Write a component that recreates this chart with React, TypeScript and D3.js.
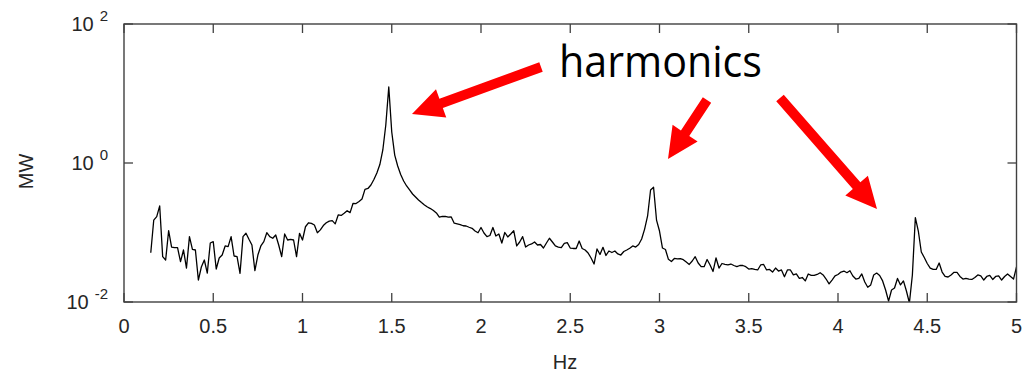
import React from "react";
import * as d3 from "d3";

// ---- data ----
const FREQ_START = 0.15; // Hz
const FREQ_STEP = 1 / 60; // Hz resolution
const POWER_MW: number[] = [
  0.0512, 0.151, 0.169, 0.241, 0.0449, 0.0402, 0.106, 0.0618, 0.0604, 0.0604,
  0.038, 0.056, 0.0308, 0.0871, 0.0573, 0.056, 0.0207, 0.0319, 0.0402, 0.0261,
  0.0706, 0.0738, 0.0298, 0.043, 0.0474, 0.064, 0.0625, 0.0871, 0.0459, 0.0449,
  0.0259, 0.0871, 0.0974, 0.0798, 0.0661, 0.0282, 0.0474, 0.064, 0.0738, 0.0993,
  0.0871, 0.0826, 0.092, 0.0661, 0.0449, 0.0951, 0.078, 0.0798, 0.078, 0.0449,
  0.0974, 0.078, 0.121, 0.138, 0.135, 0.128, 0.0993, 0.109, 0.126, 0.138,
  0.146, 0.148, 0.133, 0.179, 0.176, 0.189, 0.206, 0.193, 0.263, 0.261,
  0.279, 0.303, 0.418, 0.43, 0.483, 0.579, 0.718, 0.951, 1.54, 3.52,
  12.4, 2.79, 1.3, 0.905, 0.683, 0.551, 0.467, 0.409, 0.358, 0.324,
  0.294, 0.27, 0.249, 0.233, 0.221, 0.207, 0.191, 0.166, 0.17, 0.17,
  0.166, 0.167, 0.136, 0.133, 0.13, 0.125, 0.124, 0.119, 0.115, 0.105,
  0.0993, 0.118, 0.0984, 0.0871, 0.0905, 0.118, 0.0891, 0.0951, 0.0706, 0.1,
  0.0862, 0.0951, 0.106, 0.064, 0.073, 0.0871, 0.0618, 0.0661, 0.0684, 0.073,
  0.0661, 0.0672, 0.0598, 0.0706, 0.0826, 0.073, 0.064, 0.0618, 0.0608, 0.0695,
  0.0714, 0.0598, 0.0589, 0.0589, 0.0755, 0.0589, 0.056, 0.0507, 0.043, 0.0352,
  0.0579, 0.0482, 0.0612, 0.0467, 0.0542, 0.0516, 0.0542, 0.0491, 0.0474, 0.0533,
  0.056, 0.0593, 0.064, 0.0618, 0.0672, 0.0806, 0.112, 0.173, 0.409, 0.447,
  0.151, 0.105, 0.0598, 0.0569, 0.0411, 0.0383, 0.0423, 0.0416, 0.042, 0.0406,
  0.0376, 0.0347, 0.0389, 0.0449, 0.0364, 0.0322, 0.0322, 0.0409, 0.0341, 0.0275,
  0.043, 0.0308, 0.0358, 0.0347, 0.0341, 0.0352, 0.0335, 0.0322, 0.0335, 0.0335,
  0.0322, 0.0298, 0.0303, 0.0294, 0.0289, 0.0341, 0.0347, 0.0289, 0.0294, 0.027,
  0.0308, 0.0279, 0.0289, 0.0231, 0.0289, 0.0289, 0.0245, 0.0253, 0.0219, 0.0225,
  0.0201, 0.0253, 0.0241, 0.0241, 0.0249, 0.0264, 0.0245, 0.0214, 0.0182, 0.0207,
  0.0237, 0.0249, 0.027, 0.0279, 0.0264, 0.0282, 0.0237, 0.0214, 0.0218, 0.0253,
  0.0194, 0.0163, 0.0176, 0.0245, 0.0261, 0.0241, 0.0201, 0.0149, 0.0103, 0.0149,
  0.0159, 0.0218, 0.0176, 0.0201, 0.0144, 0.0097, 0.0245, 0.164, 0.105, 0.0524,
  0.0437, 0.0358, 0.0308, 0.0294, 0.0294, 0.0364, 0.027, 0.0233, 0.0229, 0.0245,
  0.0267, 0.0266, 0.0233, 0.0214, 0.0218, 0.0214, 0.0211, 0.0225, 0.0245, 0.0237,
  0.0207, 0.0233, 0.0241, 0.0211, 0.0233, 0.0237, 0.0207, 0.0233, 0.0253, 0.0233,
  0.0214, 0.0319,
];
const X_TICKS = [0, 0.5, 1, 1.5, 2, 2.5, 3, 3.5, 4, 4.5, 5];
const X_TICK_LABELS = ["0", "0.5", "1", "1.5", "2", "2.5", "3", "3.5", "4", "4.5", "5"];
const Y_TICKS = [100, 1, 0.01];
const Y_TICK_EXPONENTS = ["2", "0", "-2"];
const X_LABEL = "Hz";
const Y_LABEL = "MW";
const ANNOTATION = "harmonics";

// ---- layout ----
const W = 1027;
const H = 379;
const L = 124;
const R = 1016.5;
const T = 24;
const B = 302;
const TICK = 9;
const AXIS_COLOR = "#404040";
const TEXT_COLOR = "#262626";
const FONT = "'Liberation Sans', Arial, sans-serif";

function arrowPath(tx: number, ty: number, hx: number, hy: number) {
  const shaft = 5;
  const headLen = 31;
  const headHalf = 15;
  const dx = hx - tx;
  const dy = hy - ty;
  const len = Math.hypot(dx, dy);
  const ux = dx / len;
  const uy = dy / len;
  const px = -uy;
  const py = ux;
  const bx = hx - ux * headLen;
  const by = hy - uy * headLen;
  const pts = [
    [tx + px * shaft, ty + py * shaft],
    [bx + px * shaft, by + py * shaft],
    [bx + px * headHalf, by + py * headHalf],
    [hx, hy],
    [bx - px * headHalf, by - py * headHalf],
    [bx - px * shaft, by - py * shaft],
    [tx - px * shaft, ty - py * shaft],
  ];
  return "M" + pts.map((p) => p.join(",")).join("L") + "Z";
}

export default function App() {
  const x = d3.scaleLinear().domain([0, 5]).range([L, R]);
  const y = d3.scaleLog().domain([0.01, 100]).range([B, T]);
  const line = d3
    .line<number>()
    .x((_, i) => x(FREQ_START + i * FREQ_STEP))
    .y((d) => y(d));

  return (
    <svg
      width={W}
      height={H}
      style={{ position: "absolute", left: 0, top: 0, background: "#fff" }}
      fontFamily={FONT}
    >
      <defs>
        <clipPath id="plotclip">
          <rect x={L} y={T} width={R - L} height={B - T} />
        </clipPath>
      </defs>
      <rect x={0} y={0} width={W} height={H} fill="#fff" />

      {/* data line */}
      <path
        d={line(POWER_MW) || ""}
        fill="none"
        stroke="#000"
        strokeWidth={1.3}
        strokeLinejoin="round"
        clipPath="url(#plotclip)"
      />

      {/* box */}
      <rect x={L} y={T} width={R - L} height={B - T} fill="none" stroke={AXIS_COLOR} strokeWidth={1.4} />

      {/* x ticks */}
      {X_TICKS.map((t, i) => (
        <g key={"xt" + i}>
          <line x1={x(t)} x2={x(t)} y1={B} y2={B - TICK} stroke={AXIS_COLOR} strokeWidth={1.3} />
          <line x1={x(t)} x2={x(t)} y1={T} y2={T + TICK} stroke={AXIS_COLOR} strokeWidth={1.3} />
          <text x={x(t)} y={B + 31} textAnchor="middle" fontSize={20} fill={TEXT_COLOR}>
            {X_TICK_LABELS[i]}
          </text>
        </g>
      ))}

      {/* y ticks */}
      {Y_TICKS.map((t, i) => (
        <g key={"yt" + i}>
          <line x1={L} x2={L + TICK} y1={y(t)} y2={y(t)} stroke={AXIS_COLOR} strokeWidth={1.3} />
          <line x1={R} x2={R - TICK} y1={y(t)} y2={y(t)} stroke={AXIS_COLOR} strokeWidth={1.3} />
          <text x={108} y={y(t) + 7} textAnchor="end" fontSize={20} fill={TEXT_COLOR}>
            10
            <tspan dx={6} dy={-10.5} fontSize={15}>
              {Y_TICK_EXPONENTS[i]}
            </tspan>
          </text>
        </g>
      ))}

      {/* axis labels */}
      <text x={565} y={369} textAnchor="middle" fontSize={20} fill={TEXT_COLOR}>
        {X_LABEL}
      </text>
      <text
        transform={`translate(33, 171.5) rotate(-90)`}
        textAnchor="middle"
        fontSize={20}
        fill={TEXT_COLOR}
      >
        {Y_LABEL}
      </text>

      {/* annotation */}
      <text
        x={559}
        y={77}
        fontSize={44}
        fontFamily="'Open Sans', 'Noto Sans', sans-serif"
        fill="#000"
        textLength={203}
        lengthAdjust="spacingAndGlyphs"
      >
        {ANNOTATION}
      </text>
      <path d={arrowPath(541, 67, 412, 114)} fill="#ff0000" />
      <path d={arrowPath(707, 100, 668, 159)} fill="#ff0000" />
      <path d={arrowPath(780, 98, 877, 209)} fill="#ff0000" />
    </svg>
  );
}
